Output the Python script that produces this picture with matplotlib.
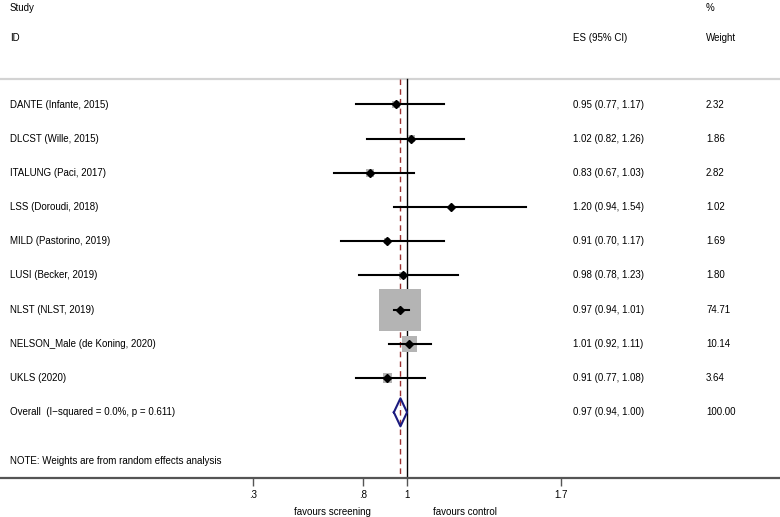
import numpy as np
import matplotlib.pyplot as plt

plt.rcParams['font.family'] = ['Liberation Sans', 'DejaVu Sans']

# study data
studies = ["DANTE (Infante, 2015)", "DLCST (Wille, 2015)", "ITALUNG (Paci, 2017)",
           "LSS (Doroudi, 2018)", "MILD (Pastorino, 2019)", "LUSI (Becker, 2019)",
           "NLST (NLST, 2019)", "NELSON_Male (de Koning, 2020)", "UKLS (2020)"]
es = [0.95, 1.02, 0.83, 1.20, 0.91, 0.98, 0.97, 1.01, 0.91]
lo = [0.77, 0.82, 0.67, 0.94, 0.70, 0.78, 0.94, 0.92, 0.77]
hi = [1.17, 1.26, 1.03, 1.54, 1.17, 1.23, 1.01, 1.11, 1.08]
weights = [2.32, 1.86, 2.82, 1.02, 1.69, 1.80, 74.71, 10.14, 3.64]

overall_label = "Overall  (I\u2212squared = 0.0%, p = 0.611)"
overall_es, overall_lo, overall_hi = 0.97, 0.94, 1.00
overall_w = 100.00

xticks = [0.3, 0.8, 1, 1.7]
xticklabels = [".3", ".8", "1", "1.7"]

W, H = 780, 517
axis_y = 478
fig = plt.figure(figsize=(W / 100, H / 100), dpi=100)
ax = fig.add_axes([0, (H - axis_y) / H, 1, axis_y / H])
ax.set_xlim(-0.85, 2.695)
ax.set_ylim(axis_y, 0)

for s in ["top", "left", "right"]:
    ax.spines[s].set_visible(False)
ax.spines["bottom"].set_color("#555555")
ax.spines["bottom"].set_linewidth(1.6)
ax.set_yticks([])
ax.set_xticks(xticks)
ax.set_xticklabels(xticklabels, fontsize=7)
ax.tick_params(axis="x", direction="out", length=6, width=1, color="#555555", pad=2.5)

row0, step = 104.5, 34.2
ys = row0 + step * np.arange(len(studies) + 1)
x0 = ax.get_xlim()[0]
px = (ax.get_xlim()[1] - x0) / W  # data units per pixel

# header line
ax.axhline(79, color="#d3d3d3", lw=1.6)

# reference lines
ax.plot([1, 1], [79, axis_y], color="black", lw=1)
ax.plot([overall_es, overall_es], [79, axis_y], color="#9c3030", lw=1, ls=(0, (4, 3)))

# studies
for i, (e, l, h, w) in enumerate(zip(es, lo, hi, weights)):
    y = ys[i]
    side = 42 * np.sqrt(w / max(weights))
    ax.add_patch(plt.Rectangle((e - side / 2 * px, y - side / 2), side * px, side,
                               facecolor="#b4b4b4", edgecolor="none", zorder=2))
    ax.plot([l, h], [y, y], color="black", lw=1.5, zorder=3)
    ax.plot(e, y, marker="D", color="black", ms=3.8, zorder=4)

# overall diamond
yo = ys[-1]
ax.plot([overall_lo, overall_es, overall_hi, overall_es, overall_lo],
        [yo, yo - 14, yo, yo + 14, yo], color="#1c1c80", lw=1.5, zorder=3)

# text columns
tx = dict(fontsize=7, va="center", clip_on=False)
x_lab = x0 + 10 * px
x_es = x0 + 573 * px
x_w = x0 + 706 * px
ax.text(x_lab, 8, "Study", **tx)
ax.text(x_lab, 38, "ID", **tx)
ax.text(x_es, 38, "ES (95% CI)", **tx)
ax.text(x_w, 8, "%", **tx)
ax.text(x_w, 38, "Weight", **tx)
for i in range(len(studies)):
    ax.text(x_lab, ys[i], studies[i], **tx)
    ax.text(x_es, ys[i], f"{es[i]:.2f} ({lo[i]:.2f}, {hi[i]:.2f})", **tx)
    ax.text(x_w, ys[i], f"{weights[i]:.2f}", **tx)
ax.text(x_lab, yo, overall_label, **tx)
ax.text(x_es, yo, f"{overall_es:.2f} ({overall_lo:.2f}, {overall_hi:.2f})", **tx)
ax.text(x_w, yo, f"{overall_w:.2f}", **tx)
ax.text(x_lab, 461, "NOTE: Weights are from random effects analysis", **tx)

ax.text(x0 + 332 * px, 512, "favours screening", ha="center", **tx)
ax.text(x0 + 465 * px, 512, "favours control", ha="center", **tx)

fig.savefig("out.png", dpi=100)
